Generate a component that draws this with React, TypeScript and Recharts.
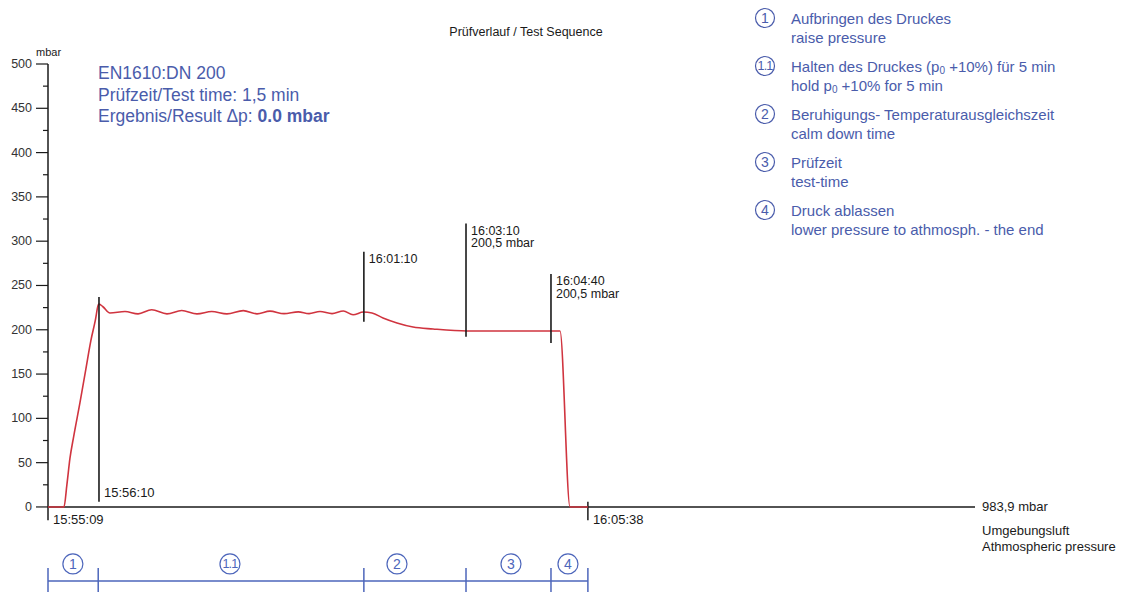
import React from 'react';
import { LineChart, Line, XAxis, YAxis, ReferenceLine, ReferenceDot, Customized } from 'recharts';

// pressure curve: seconds after 15:55:09 / mbar
const timeSec = [0, 18.6, 22, 25.6, 30, 37.3, 44, 50, 55, 58.6, 59.4, 64, 72.2, 89.7, 104.9, 120.8, 138.6, 155.8, 173.6, 190.7, 208.5, 227.5, 243.5, 258.6, 275, 291.6, 304.1, 316.9, 330.9, 344.1, 355.4, 367.4, 377.5, 390.3, 406.6, 425.3, 448.6, 488.2, 573.2, 596.5, 608.2, 629];
const pressure = [0, 0, 25, 55, 80, 118, 155, 188, 210, 228, 229, 226, 219, 220.6, 218, 222.6, 218, 221.8, 218, 220.6, 218, 221.6, 218, 221, 218.2, 220.2, 218.2, 220.6, 218.2, 221.2, 217, 220, 219, 213.3, 207.7, 203.1, 200.9, 198.6, 198.6, 198.6, 0, 0];

const yTicks = [0, 25, 50, 75, 100, 125, 150, 175, 200, 225, 250, 275, 300, 325, 350, 375, 400, 425, 450, 475, 500];

// vertical markers
const markerTime = ['15:56:10', '16:01:10', '16:03:10', '16:04:40'];
const markerSec = [59.4, 368, 487, 586];
const markerTop = [237, 288, 320, 263];
const markerBottom = [6, 209, 192, 185];
const markerValue = ['', '', '200,5 mbar', '200,5 mbar'];

const endTime = ['15:55:09', '16:05:38'];
const endSec = [0, 629];

// phase bar
const phaseBounds = [0, 58.5, 368, 487, 586, 629];
const phaseLabels = ['1', '1.1', '2', '3', '4'];
const phaseCircleSec = [29, 212, 406.6, 539.4, 605.8];

// legend
const legendDe = ['Aufbringen des Druckes', 'Halten des Druckes (p_0 +10%) für 5 min', 'Beruhigungs- Temperaturausgleichszeit', 'Prüfzeit', 'Druck ablassen'];
const legendEn = ['raise pressure', 'hold p_0 +10% for 5 min', 'calm down time', 'test-time', 'lower pressure to athmosph. - the end'];

const infoLines = ['EN1610:DN 200', 'Prüfzeit/Test time: 1,5 min', 'Ergebnis/Result \u0394p: '];
const resultValue = '0.0 mbar';

const data = timeSec.map((t, i) => ({ t, p: pressure[i] }));

const BLUE = '#4a5cab';
const BAR_BLUE = '#4d66bb';
const RED = '#d0343f';
const INK = '#1a1a1a';
const FONT = '"Liberation Sans", Arial, sans-serif';

const withSub = (s: string) => {
  const parts = s.split('_0');
  const out: React.ReactNode[] = [];
  parts.forEach((part, k) => {
    if (k > 0) {
      out.push(<tspan key={'s' + k} fontSize="10" dy={4}>0</tspan>);
      out.push(<tspan key={'p' + k} dy={-4}>{part}</tspan>);
    } else {
      out.push(<tspan key={'p' + k}>{part}</tspan>);
    }
  });
  return out;
};

const YTick = (props: any) => {
  const { x, y, payload } = props;
  const major = payload.value % 50 === 0;
  return (
    <g>
      <line x1={x - (major ? 12 : 5)} x2={x} y1={y} y2={y} stroke={INK} strokeWidth={1.2} />
      {major && (
        <text x={x - 16} y={y} textAnchor="end" dominantBaseline="central" fontSize={12.5} fill="#333">
          {payload.value}
        </text>
      )}
    </g>
  );
};

const Overlay = () => (
  <g fontFamily={FONT}>
    <text x={526} y={32} textAnchor="middle" dominantBaseline="central" fontSize={12.5} fill={INK}>
      Prüfverlauf / Test Sequence
    </text>
    <text x={36} y={52} dominantBaseline="central" fontSize={11} fill={INK}>mbar</text>
    {infoLines.map((s, i) => (
      <text key={i} x={98} y={73 + i * 21.5} dominantBaseline="central" fontSize={17.5} fill={BLUE}>
        {s}
        {i === 2 && <tspan fontWeight="bold">{resultValue}</tspan>}
      </text>
    ))}
    {phaseLabels.map((n, i) => {
      const cy = 18 + i * 48;
      return (
        <g key={i}>
          <circle cx={765} cy={cy} r={9.5} fill="none" stroke={BLUE} strokeWidth={1.2} />
          <text x={765} y={cy} textAnchor="middle" dominantBaseline="central" fontSize={n.length > 1 ? 12.5 : 14} letterSpacing={n.length > 1 ? -0.8 : 0} fill={BLUE}>{n}</text>
          <text x={791} y={cy} dominantBaseline="central" fontSize={15} fill={BLUE}>{withSub(legendDe[i])}</text>
          <text x={791} y={cy + 19} dominantBaseline="central" fontSize={15} fill={BLUE}>{withSub(legendEn[i])}</text>
        </g>
      );
    })}
  </g>
);

const markerLabel = (i: number) => (p: any) => {
  const vb = p.viewBox || {};
  const x = vb.x + 5;
  if (i === 0) {
    return (
      <text x={x} y={vb.y + vb.height - 9} dominantBaseline="central" fontSize={13} fill={INK} fontFamily={FONT}>
        {markerTime[i]}
      </text>
    );
  }
  return (
    <g fontFamily={FONT} fontSize={12.5} fill={INK}>
      <text x={x} y={vb.y + 7.5} dominantBaseline="central">{markerTime[i]}</text>
      {markerValue[i] && <text x={x} y={vb.y + 20} dominantBaseline="central">{markerValue[i]}</text>}
    </g>
  );
};

const endLabel = (i: number) => (p: any) => {
  const vb = p.viewBox || {};
  return (
    <text x={vb.x + 5} y={vb.y + vb.height - 1} dominantBaseline="central" fontSize={13} fill={INK} fontFamily={FONT}>
      {endTime[i]}
    </text>
  );
};

const axisLabel = (p: any) => {
  const vb = p.viewBox || {};
  const x = vb.x + vb.width + 7;
  return (
    <g fontFamily={FONT} fontSize={13} fill={INK}>
      <text x={x} y={vb.y} dominantBaseline="central">983,9 mbar</text>
      <text x={x} y={vb.y + 24} dominantBaseline="central">Umgebungsluft</text>
      <text x={x} y={vb.y + 40} dominantBaseline="central">Athmospheric pressure</text>
    </g>
  );
};

export default function App() {
  return (
    <div style={{ position: 'absolute', left: 0, top: 0, width: 1124, height: 592, background: '#fff' }}>
      <LineChart
        width={1124}
        height={592}
        data={data}
        margin={{ top: 64, right: 149, bottom: 0, left: 0 }}
        style={{ fontFamily: FONT }}
      >
        <XAxis type="number" dataKey="t" domain={[0, 1080]} hide />
        <YAxis
          type="number"
          domain={[-96, 500]}
          ticks={yTicks}
          interval={0}
          width={48}
          axisLine={false}
          tickLine={false}
          tickSize={0}
          tickMargin={0}
          tick={<YTick />}
        />
        {/* axes */}
        <ReferenceLine segment={[{ x: 0, y: -15 }, { x: 0, y: 500 }]} stroke={INK} strokeWidth={1.5} label={endLabel(0)} />
        <ReferenceLine segment={[{ x: 0, y: 0 }, { x: 1080, y: 0 }]} stroke={INK} strokeWidth={1.5} label={axisLabel} />
        <ReferenceLine segment={[{ x: endSec[1], y: 6 }, { x: endSec[1], y: -15 }]} stroke={INK} strokeWidth={1.5} label={endLabel(1)} />

        <Line dataKey="p" type="monotone" stroke={RED} strokeWidth={1.6} dot={false} isAnimationActive={false} />

        {markerSec.map((s, i) => (
          <ReferenceLine
            key={'m' + i}
            segment={[{ x: s, y: markerBottom[i] }, { x: s, y: markerTop[i] }]}
            stroke={INK}
            strokeWidth={1.6}
            label={markerLabel(i)}
          />
        ))}

        {/* phase bar */}
        <ReferenceLine segment={[{ x: phaseBounds[0], y: -83.5 }, { x: phaseBounds[5], y: -83.5 }]} stroke={BAR_BLUE} strokeWidth={1.5} />
        {phaseBounds.map((s, i) => (
          <ReferenceLine key={'b' + i} segment={[{ x: s, y: -69 }, { x: s, y: -96 }]} stroke={BAR_BLUE} strokeWidth={1.5} />
        ))}
        {phaseLabels.map((n, i) => (
          <ReferenceDot
            key={'c' + i}
            x={phaseCircleSec[i]}
            y={-64.3}
            r={10}
            shape={(p: any) => (
              <g>
                <circle cx={p.cx} cy={p.cy} r={10} fill="#fff" stroke={BAR_BLUE} strokeWidth={1.2} />
                <text x={p.cx} y={p.cy} textAnchor="middle" dominantBaseline="central" fontSize={n.length > 1 ? 12.5 : 14} letterSpacing={n.length > 1 ? -0.8 : 0} fill={BAR_BLUE} fontFamily={FONT}>{n}</text>
              </g>
            )}
          />
        ))}
        <Customized component={Overlay} />
      </LineChart>
    </div>
  );
}
